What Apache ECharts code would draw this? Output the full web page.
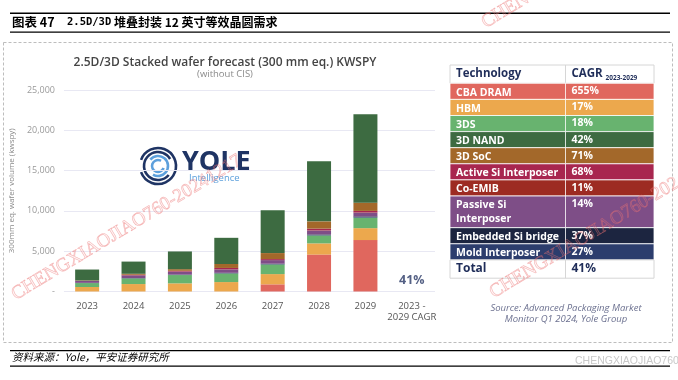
<!DOCTYPE html>
<html><head><meta charset="utf-8">
<script src="https://cdn.jsdelivr.net/npm/echarts@6/dist/echarts.min.js"></script>
<style>html,body{margin:0;padding:0;background:#fff}#c{width:678px;height:380px}</style>
</head><body><div id="c"></div>
<script>
// ---- data ----
const categories = ['2023','2024','2025','2026','2027','2028','2029','2023 -\n2029 CAGR'];
const cbaDram   = [0, 0, 0, 0, 890, 4580, 6380];
const hbm       = [555, 925, 1010, 1170, 1270, 1390, 1480];
const threeDS   = [490, 700, 1030, 1070, 1195, 985, 1310];
const moldInt   = [20, 30, 40, 50, 60, 75, 85];
const embBridge = [10, 15, 20, 30, 40, 55, 66];
const passiveSi = [230, 330, 360, 420, 440, 480, 460];
const coEmib    = [15, 17, 19, 21, 23, 26, 28];
const activeSi  = [10, 60, 90, 160, 110, 210, 190];
const soc3d     = [40, 120, 200, 490, 740, 900, 1020];
const nand3d    = [1355, 1515, 2200, 3250, 5300, 7450, 10960];
const totalCagr = '41%';
const yTickMax = 25000, yTickStep = 5000;

const techNames = ['CBA DRAM','HBM','3DS','3D NAND','3D SoC','Active Si Interposer','Co-EMIB','Passive Si\nInterposer','Embedded Si bridge','Mold Interposer'];
const techCagr  = ['655%','17%','18%','42%','71%','68%','11%','14%','37%','27%'];
const techColors = ['#E0675E','#ECA84D','#68B36F','#3D6B41','#A3682A','#A8264F','#9D2B22','#7E4E87','#1C2540','#2C3D6D'];

const FONT = '"Open Sans", sans-serif';
const NAVY = '#1F2D59';

// stacking order bottom -> top
const stackDefs = [
  ['CBA DRAM', cbaDram, 0], ['HBM', hbm, 1], ['3DS', threeDS, 2],
  ['Mold Interposer', moldInt, 9], ['Embedded Si bridge', embBridge, 8],
  ['Passive Si Interposer', passiveSi, 7], ['Co-EMIB', coEmib, 6],
  ['Active Si Interposer', activeSi, 5], ['3D SoC', soc3d, 4], ['3D NAND', nand3d, 3]
];

const series = stackDefs.map(([name, vals, ci]) => ({
  name, type: 'bar', stack: 'total', barWidth: 24,
  itemStyle: { color: techColors[ci] },
  data: vals.concat([null])
}));
series.push({
  type: 'scatter', symbolSize: 0, silent: true,
  data: [[categories[7], 1400]],
  label: { show: true, position: 'inside', formatter: totalCagr,
    fontFamily: FONT, fontWeight: 700, fontSize: 12.5, color: '#2B3A66' }
});

// ---- table graphic ----
const g = [];
const tx0 = 450, tx1 = 565.5, tx2 = 654;
let ty = 65;
const headH = 18.3, rowH = 16.1, dblH = 31.7, totH = 18.3;
g.push({ type:'rect', shape:{x:tx0,y:ty,width:tx2-tx0,height:headH}, style:{fill:'#fff',stroke:'#d6d6d6',lineWidth:1}});
g.push({ type:'text', style:{x:tx0+6,y:ty+headH/2,text:'Technology',fill:NAVY,font:'700 11.5px '+FONT,verticalAlign:'middle'}});
g.push({ type:'text', style:{x:tx1+6,y:ty+headH/2,text:'CAGR',fill:NAVY,font:'700 11.5px '+FONT,verticalAlign:'middle'}});
g.push({ type:'text', style:{x:tx1+40,y:ty+headH/2+4,text:'2023-2029',fill:NAVY,font:'700 6.5px '+FONT,verticalAlign:'middle'}});
g.push({ type:'line', shape:{x1:tx1,y1:ty,x2:tx1,y2:ty+headH}, style:{stroke:'#d6d6d6',lineWidth:1}});
ty += headH;
techNames.forEach((nm, i) => {
  const h = nm.indexOf('\n') >= 0 ? dblH : rowH;
  g.push({ type:'rect', shape:{x:tx0,y:ty,width:tx2-tx0,height:h}, style:{fill:techColors[i],stroke:'#fff',lineWidth:0.8}});
  g.push({ type:'line', shape:{x1:tx1,y1:ty,x2:tx1,y2:ty+h}, style:{stroke:'#fff',lineWidth:0.8}});
  g.push({ type:'text', style:{x:tx0+6,y:ty+2.5,text:nm,fill:'#fff',font:'700 10.5px '+FONT,verticalAlign:'top',lineHeight:13.5}});
  g.push({ type:'text', style:{x:tx1+6,y:ty+2.5,text:techCagr[i],fill:'#fff',font:'700 10.5px '+FONT,verticalAlign:'top'}});
  ty += h;
});
g.push({ type:'rect', shape:{x:tx0,y:ty,width:tx2-tx0,height:totH}, style:{fill:'#fff',stroke:'#d6d6d6',lineWidth:1}});
g.push({ type:'line', shape:{x1:tx1,y1:ty,x2:tx1,y2:ty+totH}, style:{stroke:'#d6d6d6',lineWidth:1}});
g.push({ type:'text', style:{x:tx0+6,y:ty+totH/2,text:'Total',fill:NAVY,font:'700 12px '+FONT,verticalAlign:'middle'}});
g.push({ type:'text', style:{x:tx1+6,y:ty+totH/2,text:totalCagr,fill:NAVY,font:'700 12px '+FONT,verticalAlign:'middle'}});

// source
g.push({ type:'text', style:{x:566,y:314,text:'Source: Advanced Packaging Market\nMonitor Q1 2024, Yole Group',fill:'#6C7190',font:'italic 9.5px '+FONT,align:'center',verticalAlign:'middle',lineHeight:11}});

// chart title
g.push({ type:'text', style:{x:225,y:63,text:'2.5D/3D Stacked wafer forecast (300 mm eq.) KWSPY',fill:'#444',font:'600 12px '+FONT,align:'center',verticalAlign:'middle'}});
g.push({ type:'text', style:{x:225,y:74.5,text:'(without CIS)',fill:'#8a8a8a',font:'9.5px '+FONT,align:'center',verticalAlign:'middle'}});

// Yole logo
const lc = [158,166];
[[18,'#1F3464',200,520],[14,'#1F3464',40,330],[10,'#5DA0DC',220,480],[6,'#5DA0DC',20,300]].forEach(([r,c,a0,a1])=>{
  g.push({type:'arc',shape:{cx:lc[0],cy:lc[1],r:r,startAngle:a0*Math.PI/180,endAngle:a1*Math.PI/180},style:{stroke:c,lineWidth:2.6,fill:'none'}});
});
g.push({ type:'text', style:{x:182,y:162,text:'YOLE',fill:'#1F3464',font:'700 27px '+FONT,verticalAlign:'middle'}});
g.push({ type:'text', style:{x:189,y:178,text:'Intelligence',fill:'#5DA0DC',font:'9.5px '+FONT,verticalAlign:'middle'}});

// page frame
g.push({ type:'rect', shape:{x:10,y:12.5,width:660,height:1.6}, style:{fill:'#000'}});
g.push({ type:'rect', shape:{x:10,y:31.5,width:660,height:1.3}, style:{fill:'#000'}});
g.push({ type:'text', style:{x:12,y:22.5,text:'图表 47',fill:'#000',font:'700 12.5px "Noto Sans CJK SC", sans-serif',verticalAlign:'middle'}});
g.push({ type:'text', style:{x:67,y:22.5,text:'2.5D/3D',fill:'#000',font:'700 10.5px "DejaVu Sans Mono", monospace',verticalAlign:'middle'}});
g.push({ type:'text', style:{x:114,y:22.5,text:'堆叠封装 12 英寸等效晶圆需求',fill:'#000',font:'700 12px "Noto Sans CJK SC", sans-serif',verticalAlign:'middle'}});
g.push({ type:'rect', shape:{x:3.5,y:42.5,width:669,height:300}, style:{fill:'none',stroke:'#bdbdbd',lineWidth:1,lineDash:[3,2]}});
g.push({ type:'rect', shape:{x:10,y:350,width:660,height:1.3}, style:{fill:'#000'}});
g.push({ type:'rect', shape:{x:10,y:365.5,width:660,height:1.3}, style:{fill:'#000'}});
g.push({ type:'text', style:{x:12,y:357.5,text:'资料来源：Yole，平安证券研究所',fill:'#000',font:'italic 10.5px "Noto Sans CJK SC", sans-serif',verticalAlign:'middle'}});
g.push({ type:'text', style:{x:575,y:361,text:'CHENGXIAOJIAO760',fill:'#c8c8c8',font:'10.5px "Liberation Sans", sans-serif',verticalAlign:'middle'}});

// watermarks
const wm = 'CHENGXIAOJIAO760-20241217';
[[18,304],[496,302],[488,32]].forEach(([x,y])=>{
  g.push({ type:'text', x:x, y:y, rotation: 31*Math.PI/180, z:100, silent:true,
    style:{x:0,y:0,text:wm,fill:'rgba(245,150,150,0.10)',stroke:'rgba(236,110,110,0.5)',lineWidth:0.6,font:'19px "Liberation Serif", serif',verticalAlign:'bottom'}});
});

const chart = echarts.init(document.getElementById('c'), null, {renderer:'canvas'});
chart.setOption({
  animation: false,
  grid: { left: 63, right: 243, top: 90, bottom: 88.5, containLabel: false },
  xAxis: {
    type: 'category', data: categories,
    axisLine: { show: false }, axisTick: { show: false },
    axisLabel: { color: '#555', fontFamily: FONT, fontSize: 9.5, margin: 9, lineHeight: 11, interval: 0, verticalAlign: 'top' }
  },
  yAxis: {
    type: 'value', min: 0, max: yTickMax, interval: yTickStep,
    name: '300mm eq. wafer volume (kwspy)', nameLocation: 'middle', nameGap: 42,
    nameTextStyle: { color: '#8a8a8a', fontFamily: FONT, fontSize: 8 },
    axisLine: { show: false }, axisTick: { show: false },
    splitLine: { lineStyle: { color: '#E8E8F3', width: 1 } },
    axisLabel: { color: '#9a9a9a', fontFamily: FONT, fontSize: 9, margin: 9,
      formatter: v => v === 0 ? '-' : v.toLocaleString('en-US') }
  },
  series: series,
  graphic: g
});
</script></body></html>
